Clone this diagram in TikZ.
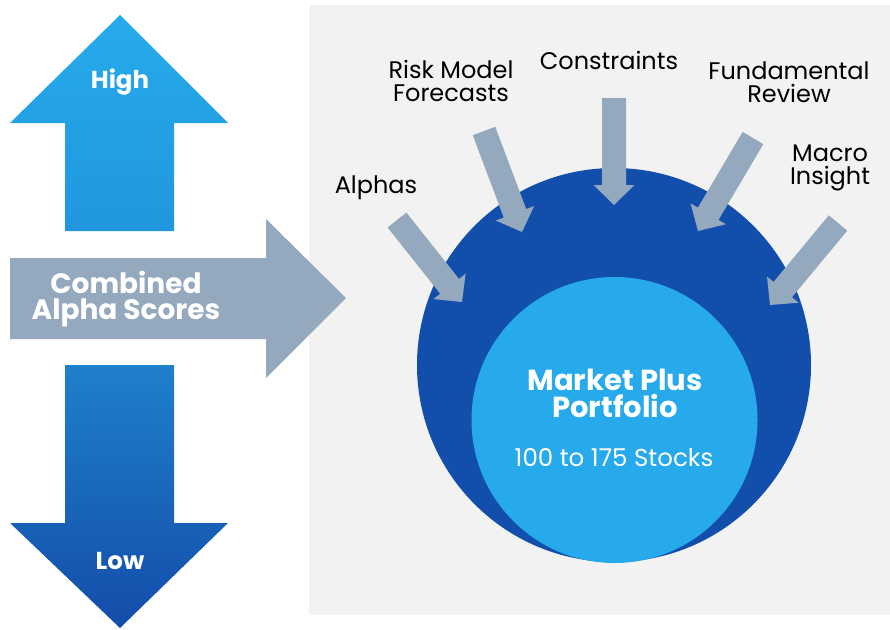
\documentclass[tikz,border=0pt]{standalone}
\usepackage{fontspec}
\setmainfont{Poppins}
\usetikzlibrary{calc}

\definecolor{panelgray}{HTML}{F2F2F2}
\definecolor{slate}{HTML}{94A8BE}
\definecolor{deepblue}{HTML}{124FAD}
\definecolor{skyblue}{HTML}{27AAEB}
\definecolor{hightop}{HTML}{26ABEC}
\definecolor{highbot}{HTML}{2196DE}
\definecolor{lowtop}{HTML}{1F80CC}
\definecolor{lowbot}{HTML}{134CA9}

\tikzset{
  input label/.style={align=center, inner sep=0pt, text=black,
    font=\fontsize{24}{23}\selectfont},
  arrow label/.style={align=center, inner sep=0pt, text=white,
    font=\bfseries\fontsize{28}{26}\selectfont},
}

% block arrow from tail #1 to tip #2
\newcommand{\inarrow}[2]{%
  \coordinate (hb) at ($(#2)!20pt!(#1)$);
  \fill[slate] ($(#1)!12pt!90:(#2)$) -- ($(hb)!12pt!90:(#2)$)
    -- ($(hb)!20.5pt!90:(#2)$) -- (#2) -- ($(hb)!20.5pt!-90:(#2)$)
    -- ($(hb)!12pt!-90:(#2)$) -- ($(#1)!12pt!-90:(#2)$) -- cycle;
}

\begin{document}
\begin{tikzpicture}[x=1pt,y=-1pt]
    \useasboundingbox (0,0) rectangle (890,629);

    % grey panel
    \fill[panelgray] (309,5) rectangle (890,615);

    % high / low arrows
    \shade[top color=hightop, bottom color=highbot]
        (120,15) -- (228,123) -- (174,123) -- (174,231)
        -- (65,231) -- (65,123) -- (10,123) -- cycle;
    \shade[top color=lowtop, bottom color=lowbot]
        (65,365) -- (174,365) -- (174,523) -- (228,523)
        -- (120,628) -- (10,523) -- (65,523) -- cycle;
    \node[arrow label, font=\bfseries\fontsize{24.5}{26}\selectfont] (high) at (120,82) {High};
    \node[arrow label, font=\bfseries\fontsize{24.5}{26}\selectfont] (low) at (120,561) {Low};

    % combined scores arrow
    \fill[slate] (10,258) -- (266,258) -- (266,219) -- (346,298)
        -- (266,378) -- (266,339) -- (10,339) -- cycle;
    \node[arrow label] (combined) at (126,299) {Combined\\Alpha Scores};

    % portfolio circles
    \fill[deepblue] (614,365) circle (197);
    \fill[skyblue] (614.5,420) circle (143);
    \node[arrow label, font=\bfseries\fontsize{29}{27}\selectfont] (portfolio) at (615,393) {Market Plus\\Portfolio};
    \node[input label, text=white, font=\fontsize{24.5}{26}\selectfont] (stocks) at (614,458) {100 to 175 Stocks};

    % inputs
    \node[input label] (alphas) at (376,188) {Alphas};
    \node[input label] (risk) at (451,81) {Risk Model\\Forecasts};
    \node[input label] (constraints) at (609,60) {Constraints};
    \node[input label] (fundamental) at (789,82) {Fundamental\\Review};
    \node[input label] (macro) at (830,168) {Macro\\Insight};

    \coordinate (alphas tail) at (397,220);
    \coordinate (alphas tip) at (462,302);
    \coordinate (risk tail) at (484,131);
    \coordinate (risk tip) at (522,232);
    \coordinate (constraints tail) at (614,98);
    \coordinate (constraints tip) at (614,205);
    \coordinate (fundamental tail) at (753,138);
    \coordinate (fundamental tip) at (698,231);
    \coordinate (macro tail) at (838,223);
    \coordinate (macro tip) at (770,305);

    \inarrow{alphas tail}{alphas tip}
    \inarrow{risk tail}{risk tip}
    \inarrow{constraints tail}{constraints tip}
    \inarrow{fundamental tail}{fundamental tip}
    \inarrow{macro tail}{macro tip}

\end{tikzpicture}
\end{document}
